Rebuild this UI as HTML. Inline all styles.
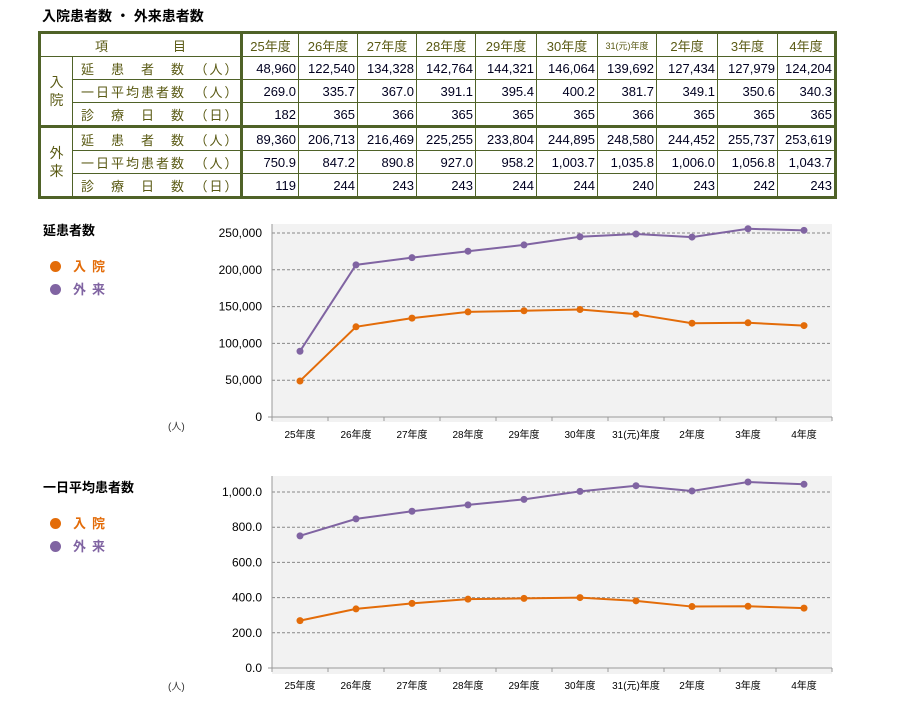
<!DOCTYPE html>
<html><head><meta charset="utf-8">
<style>
body{margin:0;background:#fff;width:898px;height:720px;position:relative;overflow:hidden;font-family:"Liberation Sans","Noto Sans CJK JP",sans-serif;}
.title{position:absolute;left:42px;top:6px;font-size:14px;font-weight:bold;color:#000;}
table{position:absolute;left:38px;top:31px;width:796px;border-collapse:collapse;border:3px solid #4f6228;table-layout:fixed;}
td{border:1px solid #4f6228;height:22px;padding:0 2px;font-size:13px;color:#000020;text-align:right;}
tr.hd td{color:#5a5a14;text-align:center;font-size:13px;height:22px;}
td.g{text-align:center;color:#5a5a14;font-size:14px;line-height:18px;padding:0;}
td.lb{text-align:left;color:#5a5a14;letter-spacing:2px;font-size:13px;padding-left:8px;white-space:pre;overflow:hidden;}
tr.sep td{border-top:3px solid #4f6228;}
.vl{border-right:3px solid #4f6228;}
.ct{position:absolute;font-size:13px;font-weight:bold;}
.lg{position:absolute;font-size:13px;font-weight:bold;letter-spacing:6px;}
.dot{display:inline-block;width:11px;height:11px;border-radius:50%;margin-right:12px;vertical-align:-1px;}
.unit{position:absolute;font-size:10px;color:#333;}
</style></head><body>
<div class="title">入院患者数 ・ 外来患者数</div>
<table>
<colgroup><col style="width:33px"><col style="width:169px"><col style="width:57px"><col style="width:59px"><col style="width:59px"><col style="width:59px"><col style="width:61px"><col style="width:61px"><col style="width:59px"><col style="width:61px"><col style="width:60px"><col style="width:58px"></colgroup>
<tr class="hd"><td colspan="2" class="vl">項　　　　　目</td><td>25年度</td><td>26年度</td><td>27年度</td><td>28年度</td><td>29年度</td><td>30年度</td><td style="font-size:9px">31(元)年度</td><td>2年度</td><td>3年度</td><td>4年度</td></tr>
<tr><td rowspan="3" class="g">入<br>院</td><td class="lb vl">延　患　者　数　（人）</td><td>48,960</td><td>122,540</td><td>134,328</td><td>142,764</td><td>144,321</td><td>146,064</td><td>139,692</td><td>127,434</td><td>127,979</td><td>124,204</td></tr>
<tr><td class="lb vl">一日平均患者数　（人）</td><td>269.0</td><td>335.7</td><td>367.0</td><td>391.1</td><td>395.4</td><td>400.2</td><td>381.7</td><td>349.1</td><td>350.6</td><td>340.3</td></tr>
<tr><td class="lb vl">診　療　日　数　（日）</td><td>182</td><td>365</td><td>366</td><td>365</td><td>365</td><td>365</td><td>366</td><td>365</td><td>365</td><td>365</td></tr>
<tr class="sep"><td rowspan="3" class="g">外<br>来</td><td class="lb vl">延　患　者　数　（人）</td><td>89,360</td><td>206,713</td><td>216,469</td><td>225,255</td><td>233,804</td><td>244,895</td><td>248,580</td><td>244,452</td><td>255,737</td><td>253,619</td></tr>
<tr><td class="lb vl">一日平均患者数　（人）</td><td>750.9</td><td>847.2</td><td>890.8</td><td>927.0</td><td>958.2</td><td>1,003.7</td><td>1,035.8</td><td>1,006.0</td><td>1,056.8</td><td>1,043.7</td></tr>
<tr><td class="lb vl">診　療　日　数　（日）</td><td>119</td><td>244</td><td>243</td><td>243</td><td>244</td><td>244</td><td>240</td><td>243</td><td>242</td><td>243</td></tr>
</table>

<div class="ct" style="left:43px;top:220px">延患者数</div>
<div class="lg" style="left:50px;top:256px;color:#e36c09"><span class="dot" style="background:#e36c09"></span>入院</div>
<div class="lg" style="left:50px;top:279px;color:#8064a2"><span class="dot" style="background:#8064a2"></span>外来</div>
<div class="unit" style="left:168px;top:418px">(人)</div>

<div class="ct" style="left:43px;top:477px">一日平均患者数</div>
<div class="lg" style="left:50px;top:513px;color:#e36c09"><span class="dot" style="background:#e36c09"></span>入院</div>
<div class="lg" style="left:50px;top:536px;color:#8064a2"><span class="dot" style="background:#8064a2"></span>外来</div>
<div class="unit" style="left:168px;top:678px">(人)</div>

<svg id="svg" width="898" height="720" style="position:absolute;left:0;top:0" xmlns="http://www.w3.org/2000/svg"></svg>
<script>
const categories=["25年度","26年度","27年度","28年度","29年度","30年度","31(元)年度","2年度","3年度","4年度"];
const totalIn=[48960,122540,134328,142764,144321,146064,139692,127434,127979,124204];
const totalOut=[89360,206713,216469,225255,233804,244895,248580,244452,255737,253619];
const avgIn=[269.0,335.7,367.0,391.1,395.4,400.2,381.7,349.1,350.6,340.3];
const avgOut=[750.9,847.2,890.8,927.0,958.2,1003.7,1035.8,1006.0,1056.8,1043.7];
const ticks1=[0,50000,100000,150000,200000,250000];
const ticks2=[0,200,400,600,800,1000];
const svg=document.getElementById('svg');
const NS='http://www.w3.org/2000/svg';
function mk(t,a,p){const e=document.createElementNS(NS,t);for(const k in a)e.setAttribute(k,a[k]);(p||svg).appendChild(e);return e;}
function chart(cfg){
  const {top,bottom,y0,yMax,max,ticks,fmt,series,name}=cfg;
  const left=272,right=832;
  const step=(right-left)/categories.length;
  const x=i=>left+step*(i+0.5);
  const y=v=>y0-(v/max)*(y0-yMax);
  const g=mk('g',{});
  
  
  const bg=mk('rect',{x:left,y:top,width:right-left,height:bottom-top,fill:'#f2f2f2'},g);
  
  
  ticks.forEach(t=>{
    if(t>0){const l=mk('line',{x1:left,x2:right,y1:y(t),y2:y(t),stroke:'#888','stroke-dasharray':'3,2','stroke-width':1},g);
    
    }
    const tx=mk('text',{x:left-10,y:y(t)+4,'text-anchor':'end','font-size':12,fill:'#000','font-family':'Liberation Sans, sans-serif'},g);
    tx.textContent=fmt(t);
    
    
  });
  mk('line',{x1:left,x2:left,y1:top,y2:y0+4,stroke:'#999'},g);
  mk('line',{x1:left-4,x2:right,y1:y0,y2:y0,stroke:'#999'},g);
  categories.forEach((c,i)=>{
    mk('line',{x1:left+step*(i+1),x2:left+step*(i+1),y1:y0,y2:y0+4,stroke:'#999'},g);
    const tx=mk('text',{x:x(i),y:y0+21,'text-anchor':'middle','font-size':10,fill:'#000','font-family':'Liberation Sans, Noto Sans CJK JP, sans-serif'},g);
    tx.textContent=c;
    
    
  });
  series.forEach(s=>{
    const pl=mk('polyline',{points:s.data.map((v,i)=>x(i)+','+y(v)).join(' '),fill:'none',stroke:s.color,'stroke-width':2},g);
    
    
    s.data.forEach((v,i)=>{
      const c=mk('circle',{cx:x(i),cy:y(v),r:3.5,fill:s.color},g);
      
      
    });
  });
}
chart({name:'total-patients-chart',top:224,bottom:422,y0:417,yMax:233,max:250000,ticks:ticks1,fmt:t=>t.toLocaleString('en-US'),
  series:[{name:'outpatient',data:totalOut,color:'#8064a2'},{name:'inpatient',data:totalIn,color:'#e36c09'}]});
chart({name:'daily-average-chart',top:476,bottom:674,y0:668,yMax:492,max:1000,ticks:ticks2,fmt:t=>t.toLocaleString('en-US',{minimumFractionDigits:1,maximumFractionDigits:1}),
  series:[{name:'outpatient',data:avgOut,color:'#8064a2'},{name:'inpatient',data:avgIn,color:'#e36c09'}]});
</script>
</body></html>
